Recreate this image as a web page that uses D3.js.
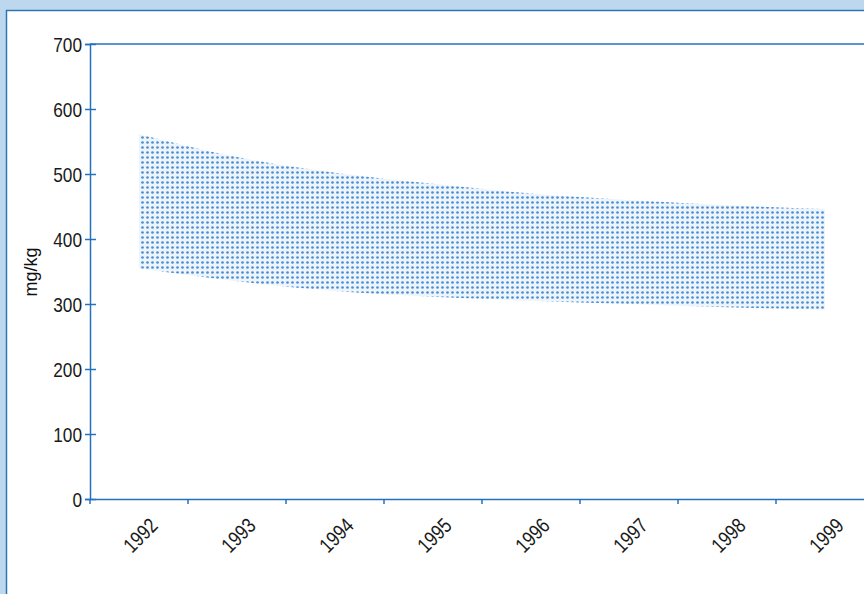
<!DOCTYPE html>
<html>
<head>
<meta charset="utf-8">
<script src="https://cdn.jsdelivr.net/npm/d3@7/dist/d3.min.js"></script>
<style>
  html, body { margin: 0; padding: 0; background: #bdd7ee; }
  svg { display: block; }
  .tick text { font-family: "Liberation Sans", Arial, sans-serif; font-size: 21px; fill: #1a1a1a; }
</style>
</head>
<body>
<div id="chart"></div>
<script>
const years = ["1992", "1993", "1994", "1995", "1996", "1997", "1998", "1999"];
const upper = [561, 526, 502, 485, 470, 460, 452, 446];
const lower = [355, 335, 320, 311, 305, 300, 295, 291];
const yTicks = [0, 100, 200, 300, 400, 500, 600, 700];

const W = 864, H = 594;
const axisColor = "#2471c0";

const svg = d3.select("#chart").append("svg")
  .attr("width", W)
  .attr("height", H);

// panel
svg.append("rect")
  .attr("x", 6.5).attr("y", 10.5)
  .attr("width", W + 20).attr("height", H + 20)
  .attr("fill", "#fff")
  .attr("stroke", "#2e75b6")
  .attr("stroke-width", 1.5);

// dotted fill pattern
const defs = svg.append("defs");
const pat = defs.append("pattern")
  .attr("id", "dots")
  .attr("patternUnits", "userSpaceOnUse")
  .attr("width", 5).attr("height", 5);
pat.append("rect").attr("width", 5).attr("height", 5).attr("fill", "#edf4fb");
pat.append("circle").attr("cx", 2.5).attr("cy", 2.5).attr("r", 1.35).attr("fill", "#4a8fd4");

const x = d3.scaleBand()
  .domain(years)
  .range([90, 874])
  .padding(0);

const y = d3.scaleLinear()
  .domain([0, 700])
  .range([499, 44]);

// band area
const area = d3.area()
  .x((d, i) => x(years[i]) + x.bandwidth() / 2)
  .y0((d, i) => y(lower[i]))
  .y1(d => y(d))
  .curve(d3.curveMonotoneX);

svg.append("path")
  .datum(upper)
  .attr("d", area)
  .attr("fill", "url(#dots)");

// top frame line
svg.append("line")
  .attr("x1", 90).attr("x2", 874)
  .attr("y1", y(700)).attr("y2", y(700))
  .attr("stroke", axisColor).attr("stroke-width", 1.5);

// narrow the tick labels like the condensed face of the original
function squeeze(sel, k) {
  sel.each(function() {
    const len = this.getComputedTextLength();
    d3.select(this).attr("textLength", len * k).attr("lengthAdjust", "spacingAndGlyphs");
  });
}

// y axis
const gy = svg.append("g")
  .attr("transform", "translate(90,0)")
  .call(d3.axisLeft(y).tickValues(yTicks).tickSize(5).tickPadding(3));
gy.select(".domain").attr("stroke", axisColor).attr("stroke-width", 1.5);
gy.selectAll(".tick line").attr("x1", 6).attr("stroke", axisColor).attr("stroke-width", 1.5);
gy.selectAll(".tick text").attr("dy", "0.38em").call(squeeze, 0.82);

// x axis
const gx = svg.append("g")
  .attr("transform", `translate(0,${y(0)})`)
  .call(d3.axisBottom(x).tickSize(0).tickPadding(0));
gx.select(".domain").attr("stroke", axisColor).attr("stroke-width", 1.5);
gx.selectAll(".tick text")
  .attr("text-anchor", "end")
  .attr("dy", 0)
  .attr("transform", "translate(20,28) rotate(-45)")
  .call(squeeze, 0.82);

// boundary ticks on x axis
const bounds = years.map(d => x(d)).concat([x.range()[1]]);
gx.selectAll(".btick")
  .data(bounds)
  .enter().append("line")
  .attr("class", "btick")
  .attr("x1", d => d).attr("x2", d => d)
  .attr("y1", 0).attr("y2", 5)
  .attr("stroke", axisColor).attr("stroke-width", 1.5);

// y title
svg.append("text")
  .attr("transform", "translate(37,272) rotate(-90)")
  .attr("text-anchor", "middle")
  .attr("font-family", "Liberation Sans, Arial, sans-serif")
  .attr("font-size", 18)
  .attr("fill", "#111")
  .text("mg/kg");
</script>
</body>
</html>
